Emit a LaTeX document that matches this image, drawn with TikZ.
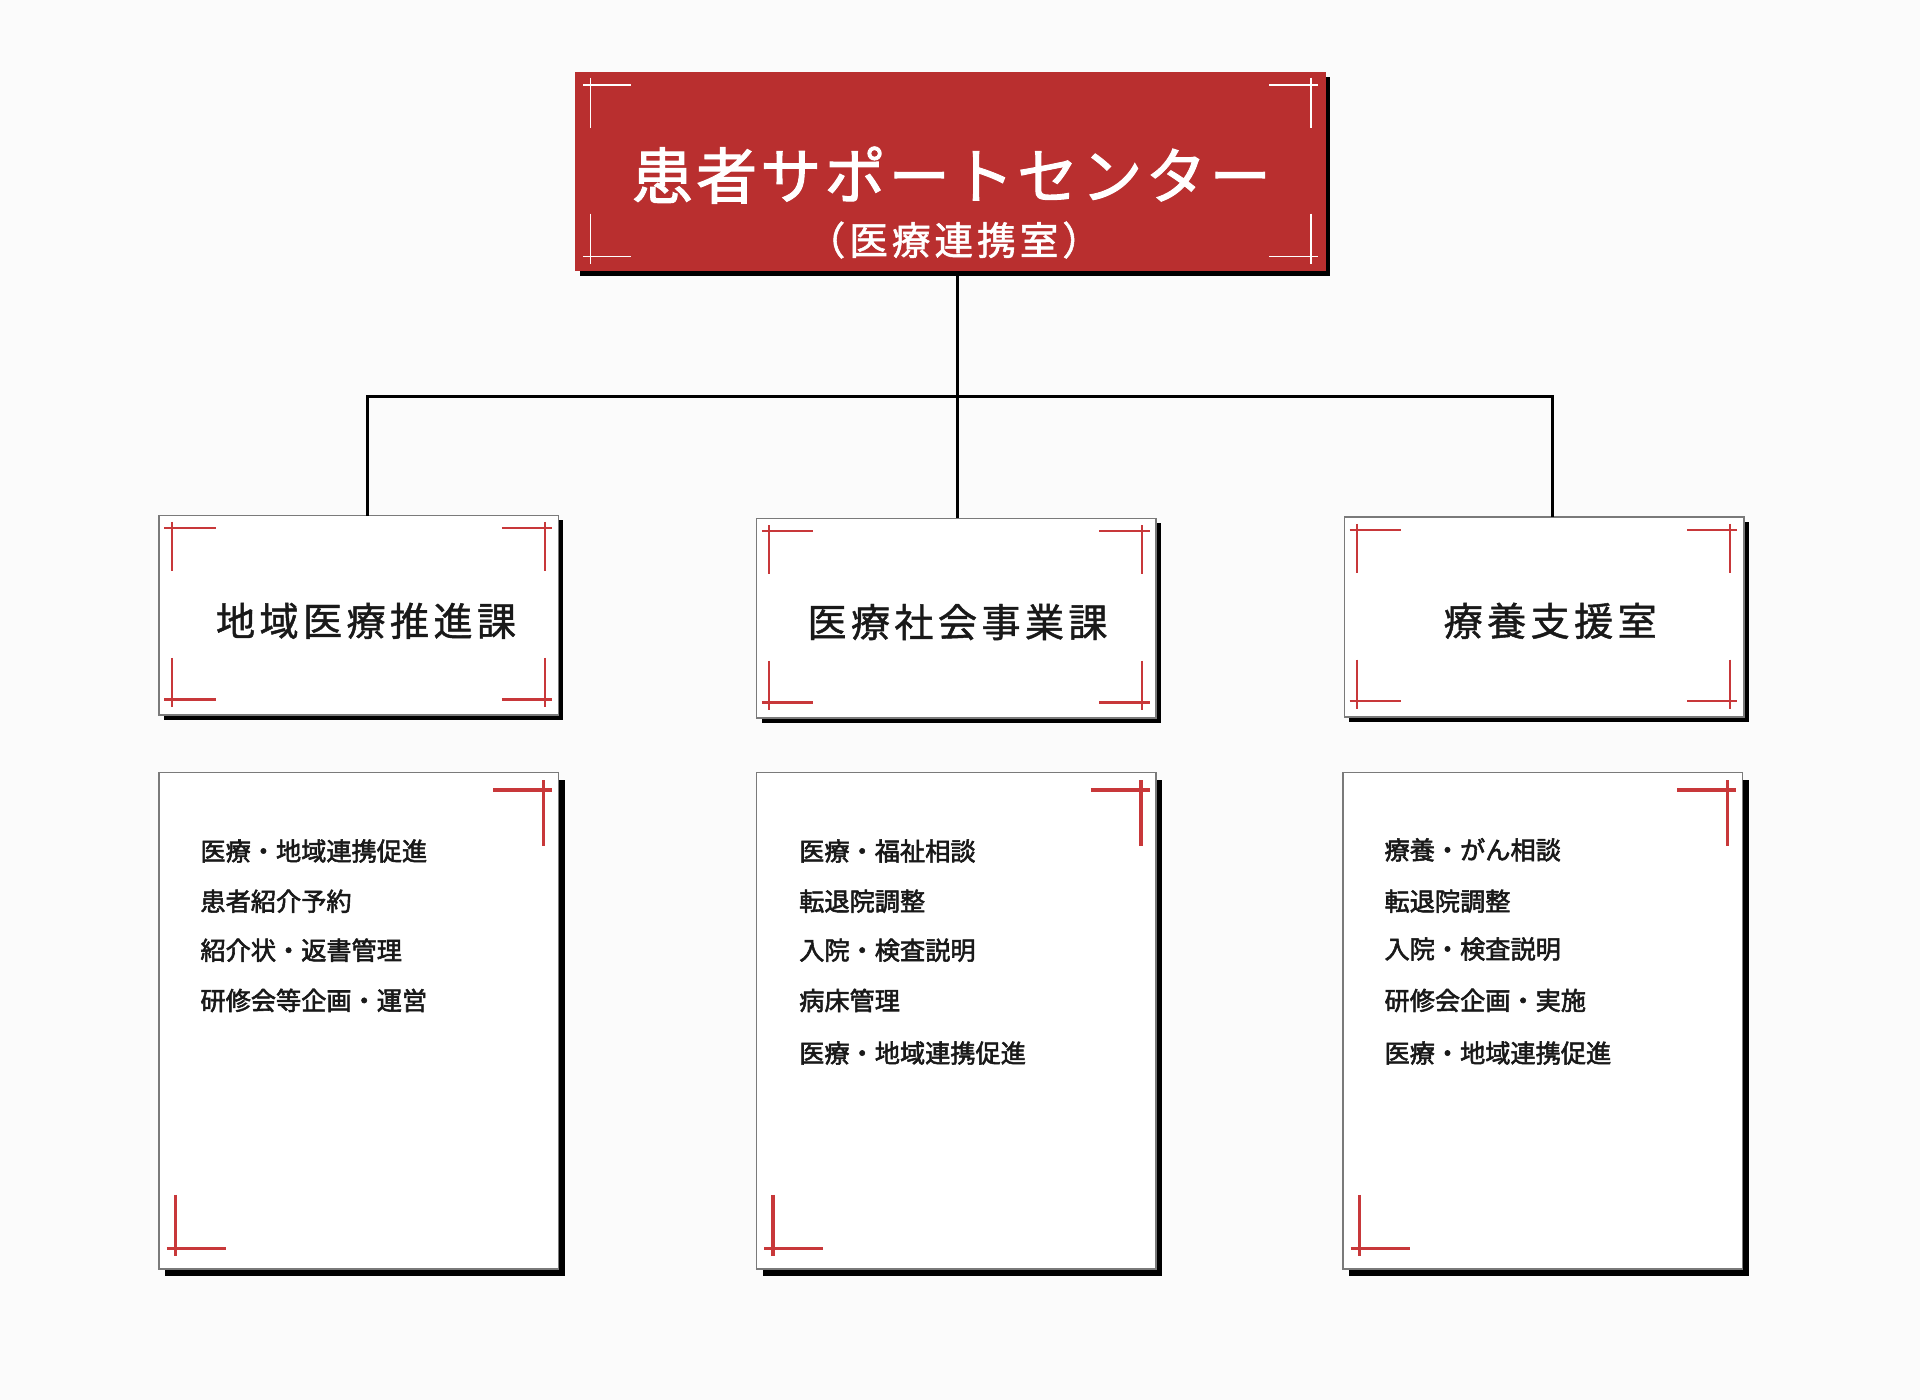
\documentclass[tikz,border=0pt]{standalone}
\usepackage{fontspec}
\usetikzlibrary{shadows}
\newfontfamily\jpf{Noto Sans CJK JP}[FakeBold=2.2]
\newfontfamily\jptitle{Noto Sans CJK JP}[LetterSpace=5, FakeBold=1.6]
\newfontfamily\jpsub{Noto Sans CJK JP}[LetterSpace=10, FakeBold=1.4]
\newfontfamily\jphead{Noto Sans CJK JP}[LetterSpace=11, FakeBold=1.1]
\definecolor{bgc}{HTML}{FBFBFB}
\definecolor{mainred}{HTML}{B92F2F}
\definecolor{markred}{HTML}{C8383A}
\definecolor{bordergray}{HTML}{7A7A7A}
\tikzset{
  shadowed/.style={general shadow={fill=black, shadow xshift=0.04cm, shadow yshift=-0.04cm}},
  topbox/.style={rectangle, fill=mainred, draw=mainred, line width=0.3pt, minimum width=6.12cm, minimum height=1.62cm, inner sep=0pt, shadowed},
  midbox/.style={rectangle, fill=white, draw=bordergray, line width=0.4pt, minimum width=3.26cm, minimum height=1.63cm, inner sep=0pt, shadowed},
  lowbox/.style={rectangle, fill=white, draw=bordergray, line width=0.4pt, minimum width=3.26cm, minimum height=4.05cm, inner sep=0pt,
     general shadow={fill=black, shadow xshift=0.05cm, shadow yshift=-0.06cm}},
  conn/.style={draw=black, line width=0.75pt},
  whitemark/.style={draw=white, line width=0.4pt},
  redmark/.style={draw=markred, line width=0.5pt},
  redmarkthick/.style={draw=markred, line width=0.75pt},
  headtext/.style={inner sep=0pt, font=\jphead\fontsize{9.1}{11}\selectfont, text=black!90},
  itemtext/.style={inner sep=0pt, anchor=west, font=\jpf\fontsize{5.85}{7}\selectfont, text=black!90},
}
\newcommand\midmarks[1]{%
  \begin{scope}[shift={(#1.north west)}]
    \draw[redmark] (5,11) -- (47,11); \draw[redmark] (11,6) -- (11,46);
    \draw[redmark] (5,151) -- (47,151); \draw[redmark] (11,117) -- (11,157);
  \end{scope}
  \begin{scope}[shift={(#1.north east)}]
    \draw[redmark] (-47,11) -- (-6,11); \draw[redmark] (-12,6) -- (-12,46);
    \draw[redmark] (-47,151) -- (-6,151); \draw[redmark] (-12,117) -- (-12,157);
  \end{scope}}
\newcommand\lowmarks[1]{%
  \begin{scope}[shift={(#1.north east)}]
    \draw[redmarkthick] (-54,15) -- (-6,15); \draw[redmarkthick] (-13,7) -- (-13,61);
  \end{scope}
  \begin{scope}[shift={(#1.south west)}]
    \draw[redmarkthick] (7,-17) -- (55,-17); \draw[redmarkthick] (14,-61) -- (14,-11);
  \end{scope}}
\begin{document}
\begin{tikzpicture}[x=0.01cm, y=-0.01cm]
\useasboundingbox[fill=bgc] (0,0) rectangle (1568,1143.3);

% top box
\node[topbox] (top) at (776,140) {};
\node[inner sep=0pt, text=white, font=\jptitle\fontsize{14.2}{16}\selectfont] (title) at (777,143) {患者サポートセンター};
\node[inner sep=0pt, text=white, font=\jpsub\fontsize{9}{10}\selectfont] (subtitle) at (779,196) {（医療連携室）};
\begin{scope}[shift={(top.north west)}]
  \draw[whitemark] (7,11) -- (46,11); \draw[whitemark] (13,5) -- (13,46);
  \draw[whitemark] (7,151) -- (46,151); \draw[whitemark] (13,116) -- (13,157);
\end{scope}
\begin{scope}[shift={(top.north east)}]
  \draw[whitemark] (-46,11) -- (-6,11); \draw[whitemark] (-12,5) -- (-12,46);
  \draw[whitemark] (-46,151) -- (-6,151); \draw[whitemark] (-12,116) -- (-12,157);
\end{scope}

% middle boxes
\node[midbox] (b1) at (293,502.5) {};
\node[midbox] (b2) at (781,505) {};
\node[midbox] (b3) at (1261,504) {};
\node[headtext] (h1) at (299,507) {地域医療推進課};
\node[headtext] (h2) at (782,508) {医療社会事業課};
\node[headtext] (h3) at (1266,507) {療養支援室};
\midmarks{b1}\midmarks{b2}\midmarks{b3}

% connectors
\coordinate (ctop) at (782,224);
\coordinate (hub) at (782,324);
\coordinate (jl) at (300,324);
\coordinate (jr) at (1268,324);
\coordinate (e1) at (300,421);
\coordinate (e2) at (782,423);
\coordinate (e3) at (1268,422);
\draw[conn] (ctop) -- (e2);
\draw[conn] (e1) -- (jl) -- (jr) -- (e3);

% lower boxes
\node[lowbox] (l1) at (293,833.5) {};
\node[lowbox] (l2) at (781,833.5) {};
\node[lowbox] (l3) at (1260,833.5) {};
\lowmarks{l1}\lowmarks{l2}\lowmarks{l3}

\node[itemtext] (a1) at (163,695) {医療・地域連携促進};
\node[itemtext] (a2) at (163,736) {患者紹介予約};
\node[itemtext] (a3) at (163,776) {紹介状・返書管理};
\node[itemtext] (a4) at (163,817) {研修会等企画・運営};

\node[itemtext] (m1) at (652,695) {医療・福祉相談};
\node[itemtext] (m2) at (652,736) {転退院調整};
\node[itemtext] (m3) at (652,776) {入院・検査説明};
\node[itemtext] (m4) at (652,817) {病床管理};
\node[itemtext] (m5) at (652,860) {医療・地域連携促進};

\node[itemtext] (r1) at (1130,694) {療養・がん相談};
\node[itemtext] (r2) at (1130,736) {転退院調整};
\node[itemtext] (r3) at (1130,775) {入院・検査説明};
\node[itemtext] (r4) at (1130,817) {研修会企画・実施};
\node[itemtext] (r5) at (1130,860) {医療・地域連携促進};
\end{tikzpicture}
\end{document}
